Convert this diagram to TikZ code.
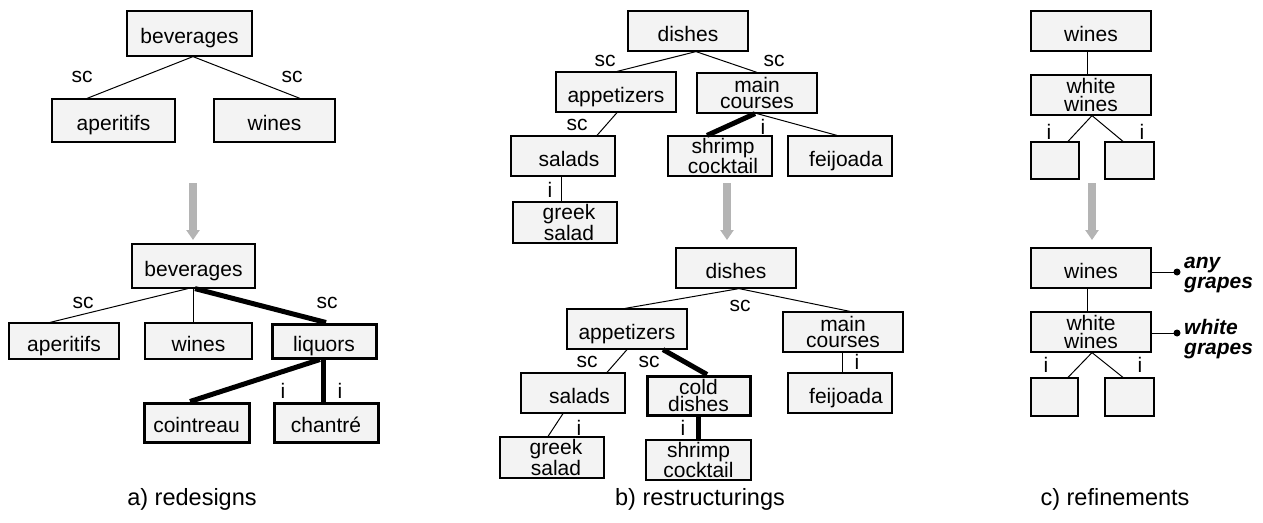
\documentclass[tikz,border=0pt]{standalone}
\usepackage{fontspec}
\setmainfont{Liberation Sans}
\usetikzlibrary{arrows.meta}
\definecolor{boxfill}{HTML}{F3F3F3}
\definecolor{arrowgray}{HTML}{B4B4B4}
\newcommand{\nfont}{\fontsize{21}{16.5}\selectfont}
\newcommand{\cfont}{\fontsize{23.5}{26}\selectfont}
\newcommand{\afont}{\fontsize{21}{20}\selectfont\bfseries\itshape}
\newcommand{\pad}[1]{\hspace*{#1}}
\tikzset{
  box/.style={draw, fill=boxfill, line width=1.2pt, inner sep=0pt, align=center, font=\nfont,
              text height=20pt, text depth=0pt},
  box2/.style={draw, fill=boxfill, line width=1.2pt, inner sep=0pt, align=center, font=\nfont},
  thickbox/.style={box, line width=3pt},
  thickbox2/.style={box2, line width=3pt},
  sz/.style 2 args={minimum width=#1pt, minimum height=#2pt},
  lbl/.style={inner sep=0pt, font=\nfont},
  link/.style={line width=1pt},
  heavy/.style={line width=5pt},
  change/.style={line width=8pt, arrowgray, -{Triangle[width=13pt,length=10pt]}},
  captxt/.style={inner sep=0pt, font=\cfont},
  note/.style={inner sep=0pt, font=\afont, align=left, anchor=west},
}
\begin{document}
\begin{tikzpicture}[x=1pt,y=-1pt]
\useasboundingbox (0,0) rectangle (1263,522);
% ---------------- a) top
\node[box,sz={125}{45}] (A1) at (189.5,33.5) {beverages};
\node[box,sz={123}{43}] (A2) at (113.5,120.5) {aperitifs};
\node[box,sz={121}{43}] (A3) at (274.5,120.5) {wines};
\draw[link] ([xshift=3.5pt]A1.south) -- ([xshift=-26.5pt]A2.north);
\draw[link] ([xshift=3.5pt]A1.south) -- ([xshift=25.5pt]A3.north);
\node[lbl] (la1) at (82,77) {sc};
\node[lbl] (la2) at (292,77) {sc};
\coordinate (arA1) at (193,183);
\coordinate (arA2) at (193,240);
\draw[change] (arA1) -- (arA2);
% ---------------- a) bottom
\node[box,sz={123}{44}] (B1) at (193.5,266) {beverages};
\node[box,sz={110}{36}] (B2) at (64,341) {aperitifs};
\node[box,sz={107}{36}] (B3) at (198.5,341) {wines};
\node[thickbox,sz={104}{34}] (B4) at (324,341) {liquors};
\node[thickbox,sz={105}{39}] (B5) at (196.5,422.5) {cointreau};
\node[thickbox,sz={104}{39}] (B6) at (326,422.5) {chantré};
\draw[link] ([xshift=-5.5pt]B1.south) -- ([xshift=-14pt]B2.north);
\draw[link] ([xshift=-0.5pt]B1.south) -- ([xshift=-5.5pt]B3.north);
\draw[heavy] ([xshift=1.5pt]B1.south) -- ([xshift=2pt]B4.north);
\draw[heavy] ([xshift=-4pt]B4.south) -- ([xshift=-6.5pt]B5.north);
\draw[heavy] ([xshift=-1pt]B4.south) -- ([xshift=-3pt]B6.north);
\node[lbl] (lb1) at (83,303) {sc};
\node[lbl] (lb2) at (327,303) {sc};
\node[lbl] (lb3) at (283,391) {i};
\node[lbl] (lb4) at (340,391) {i};
\node[captxt] (capa) at (192,499) {a) redesigns};
% ---------------- b) top
\node[box,sz={120}{40}] (C1) at (688,31) {dishes};
\node[box,sz={120}{40}] (C2) at (616,92) {appetizers};
\node[box2,sz={120}{40}] (C3) at (757,93) {main\\courses};
\node[box,sz={104}{40}] (C4) at (563,156) {\pad{12pt}salads};
\node[box2,sz={104}{40}] (C5) at (720,156) {\pad{6pt}shrimp\\\pad{6pt}cocktail};
\node[box,sz={104}{40}] (C6) at (840,156) {\pad{12pt}feijoada};
\node[box2,sz={104}{41},font=\fontsize{21}{15}\selectfont] (C7) at (565,222.5) {\pad{8pt}greek\\\pad{8pt}salad};
\draw[link] ([xshift=8pt]C1.south) -- ([xshift=1pt]C2.north);
\draw[link] ([xshift=8pt]C1.south) -- ([xshift=0pt]C3.north);
\draw[link] ([xshift=1pt]C2.south) -- ([xshift=34pt]C4.north);
\draw[heavy] ([xshift=-2pt]C3.south) -- ([xshift=-13pt]C5.north);
\draw[link] ([xshift=0pt]C3.south) -- ([xshift=-3pt]C6.north);
\draw[link] ([xshift=-2pt]C4.south) -- ([xshift=-4pt]C7.north);
\node[lbl] (lc1) at (605,61) {sc};
\node[lbl] (lc2) at (774,61) {sc};
\node[lbl] (lc3) at (577,125) {sc};
\node[lbl] (lc4) at (763,127) {i};
\node[lbl] (lc5) at (550,190) {i};
\coordinate (arB1) at (727,183);
\coordinate (arB2) at (727,240);
\draw[change] (arB1) -- (arB2);
% ---------------- b) bottom
\node[box,sz={120}{40}] (D1) at (736,268) {dishes};
\node[box,sz={120}{40}] (D2) at (627,329) {appetizers};
\node[box2,sz={120}{40}] (D3) at (843,332) {main\\courses};
\node[box,sz={104}{40}] (D4) at (573,393) {\pad{13pt}salads};
\node[thickbox2,sz={103}{39}] (D5) at (698.5,395.5) {cold\\dishes};
\node[box,sz={104}{40}] (D6) at (840,393) {\pad{12pt}feijoada};
\node[box2,sz={104}{41},font=\fontsize{21}{15}\selectfont] (D7) at (552,457.5) {\pad{8pt}greek\\\pad{8pt}salad};
\node[box2,sz={105}{40}] (D8) at (698.5,460) {shrimp\\cocktail};
\draw[link] ([xshift=3pt]D1.south) -- ([xshift=-2pt]D2.north);
\draw[link] ([xshift=3pt]D1.south) -- ([xshift=7pt]D3.north);
\draw[link] ([xshift=0pt]D2.south) -- ([xshift=34pt]D4.north);
\draw[heavy] ([xshift=36pt]D2.south) -- ([xshift=8.5pt]D5.north);
\draw[link] ([xshift=-1pt]D3.south) -- ([xshift=2pt]D6.north);
\draw[link] ([xshift=-10pt]D4.south) -- ([xshift=-4pt]D7.north);
\draw[heavy] ([xshift=-0.5pt]D5.south) -- ([xshift=-0.5pt]D8.north);
\node[lbl] (ld1) at (740,306) {sc};
\node[lbl] (ld2) at (587,362) {sc};
\node[lbl] (ld3) at (649,362) {sc};
\node[lbl] (ld4) at (857,362) {i};
\node[lbl] (ld5) at (579,428) {i};
\node[lbl] (ld6) at (683,428) {i};
\node[captxt] (capb) at (700,499) {b) restructurings};
% ---------------- c) top
\node[box,sz={120}{40}] (E1) at (1091,31) {wines};
\node[box2,sz={120}{40},font=\fontsize{21}{18}\selectfont] (E2) at (1091,95) {white\\wines};
\node[box,sz={48}{37}] (E3) at (1055,160.5) {};
\node[box,sz={49}{37}] (E4) at (1129.5,160.5) {};
\draw[link] ([xshift=-4pt]E1.south) -- ([xshift=-4pt]E2.north);
\draw[link] ([xshift=1pt]E2.south) -- ([xshift=13pt]E3.north);
\draw[link] ([xshift=1pt]E2.south) -- ([xshift=-6.5pt]E4.north);
\node[lbl] (le1) at (1049,132) {i};
\node[lbl] (le2) at (1142,132) {i};
\coordinate (arC1) at (1092,183);
\coordinate (arC2) at (1092,240);
\draw[change] (arC1) -- (arC2);
% ---------------- c) bottom
\node[box,sz={120}{40}] (F1) at (1091,268) {wines};
\node[box2,sz={120}{40},font=\fontsize{21}{18}\selectfont] (F2) at (1091,332) {white\\wines};
\node[box,sz={47}{38}] (F3) at (1054.5,397) {};
\node[box,sz={49}{38}] (F4) at (1129.5,397) {};
\draw[link] ([xshift=-4pt]F1.south) -- ([xshift=-4pt]F2.north);
\draw[link] ([xshift=1pt]F2.south) -- ([xshift=13.5pt]F3.north);
\draw[link] ([xshift=1pt]F2.south) -- ([xshift=-6.5pt]F4.north);
\node[lbl] (lf1) at (1046,365) {i};
\node[lbl] (lf2) at (1140,365) {i};
\coordinate (dot1) at (1177,272);
\coordinate (dot2) at (1177,333);
\draw[link] (F1.east |- dot1) -- (dot1);
\draw[link] (F2.east |- dot2) -- (dot2);
\fill (dot1) circle (3.5pt);
\fill (dot2) circle (3.5pt);
\node[note] (n1) at (1184,275) {any\\grapes};
\node[note] (n2) at (1184,339) {white\\grapes};
\node[captxt] (capc) at (1115,499) {c) refinements};
\end{tikzpicture}
\end{document}
